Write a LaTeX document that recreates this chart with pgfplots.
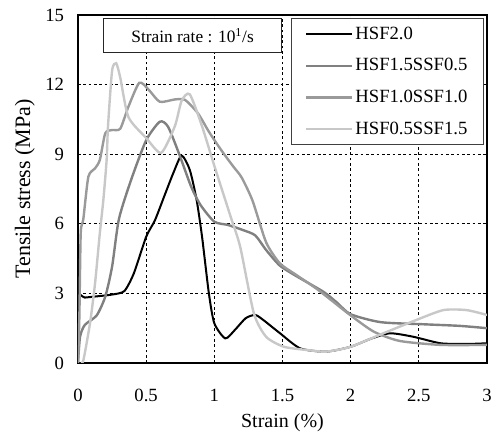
\documentclass[border=0pt]{standalone}
\usepackage{fontspec}
\setmainfont{Liberation Serif}
\usepackage{pgfplots}
\pgfplotsset{compat=1.18}
\definecolor{cA}{HTML}{808080}
\definecolor{cB}{HTML}{9A9A9A}
\definecolor{cC}{HTML}{C8C8C8}
\begin{document}
\begin{tikzpicture}
\useasboundingbox (-58.5pt,-53.25pt) rectangle (312pt,272.25pt);
\begin{axis}[
  scale only axis, width=306.75pt, height=261pt,
  at={(0,0)}, anchor=south west,
  xmin=0, xmax=3, ymin=0, ymax=15,
  xtick={0,0.5,1,1.5,2,2.5,3}, ytick={0,3,6,9,12,15},
  major tick length=0pt,
  grid=major,
  grid style={black, dash pattern=on 2pt off 2pt, line width=0.5pt},
  axis line style={black, line width=1.5pt},
  /pgf/number format/assume math mode=true,
  ticklabel style={font=\fontsize{14}{16}\selectfont},
  xticklabel style={yshift=-16pt},
  yticklabel style={xshift=-7pt},
  xlabel={Strain (\%)}, ylabel={Tensile stress (MPa)},
  xlabel style={at={(axis description cs:0.5,-0.172)}, anchor=center, font=\fontsize{15}{17}\selectfont},
  ylabel style={at={(axis description cs:-0.13,0.5)}, anchor=center, font=\fontsize{16.5}{18}\selectfont},
  legend style={at={(0.993,0.991)}, anchor=north east, draw=black!75,
    line width=1pt, fill=white, font=\fontsize{14}{16}\selectfont,
    inner xsep=10pt, inner ysep=4pt, row sep=9pt, cells={anchor=west}},
  legend image code/.code={\draw[#1] (0pt,0pt) -- (34pt,0pt);},
  clip=true,
]
\addplot[black, line width=1.5pt, smooth, tension=0.4] coordinates {
(0,0)(0,2.8)(0.05,2.82)(0.15,2.88)(0.25,2.95)(0.34,3.1)(0.41,3.87)(0.5,5.44)
(0.565,6.16)(0.64,7.3)(0.7,8.2)(0.76,8.94)(0.82,8.32)(0.87,7.03)(0.91,5.44)
(0.96,3.0)(1.0,1.71)(1.08,1.06)(1.15,1.42)(1.23,1.93)(1.30,2.07)(1.36,1.85)
(1.48,1.29)(1.63,0.63)(1.82,0.49)(2.0,0.7)(2.15,1.05)(2.29,1.28)(2.46,1.13)
(2.66,0.85)(2.85,0.82)(3.0,0.85)};
\addlegendentry{HSF2.0}
\addplot[cA, line width=1.8pt, smooth, tension=0.4] coordinates {
(0,0)(0.015,1.13)(0.05,1.64)(0.137,2.05)(0.2,2.86)(0.25,4.15)(0.30,6.2)
(0.39,7.9)(0.5,9.6)(0.6,10.4)(0.66,10.19)(0.74,9.04)(0.83,7.6)(0.9,6.8)
(1.0,6.09)(1.1,5.95)(1.21,5.73)(1.30,5.5)(1.38,4.87)(1.48,4.2)(1.6,3.75)
(1.8,3.07)(1.9,2.6)(2.0,2.1)(2.22,1.76)(2.53,1.67)(2.8,1.6)(3.0,1.5)};
\addlegendentry{HSF1.5SSF0.5}
\addplot[cB, line width=1.8pt, smooth, tension=0.4] coordinates {
(0,0)(0.01,2.0)(0.02,5.6)(0.039,6.2)(0.076,8.03)(0.125,8.39)(0.16,8.75)
(0.2,9.9)(0.25,10.04)(0.31,10.1)(0.37,11.05)(0.45,12.08)(0.52,11.77)
(0.60,11.26)(0.71,11.36)(0.785,11.34)(0.88,10.76)(0.96,9.97)(1.05,9.18)
(1.14,8.46)(1.2,8.0)(1.28,7.0)(1.38,5.2)(1.48,4.3)(1.6,3.8)(1.75,3.2)
(1.87,2.65)(2.0,2.05)(2.17,1.35)(2.36,0.95)(2.66,0.78)(3.0,0.78)};
\addlegendentry{HSF1.0SSF1.0}
\addplot[cC, line width=1.8pt, smooth, tension=0.4] coordinates {
(0.02,0)(0.04,0.13)(0.088,1.71)(0.125,3.43)(0.16,5.59)(0.186,7.03)(0.21,8.75)
(0.22,10.19)(0.25,12.6)(0.28,12.92)(0.31,12.3)(0.37,10.6)(0.5,9.7)(0.61,9.06)
(0.71,10.2)(0.76,11.3)(0.82,11.58)(0.91,10.2)(1.0,8.5)(1.12,6.3)(1.19,5.0)
(1.29,2.14)(1.38,1.13)(1.51,0.70)(1.68,0.56)(1.82,0.49)(2.0,0.7)(2.24,1.28)
(2.48,1.85)(2.68,2.28)(2.85,2.28)(3.0,2.07)};
\addlegendentry{HSF0.5SSF1.5}
\node[draw=black!85, line width=1pt, fill=white, minimum width=133.5pt,
  minimum height=25.5pt, anchor=north west, inner sep=0pt,
  font=\fontsize{13}{15}\selectfont]
  at (rel axis cs:0.061,0.991) {Strain rate : 10\textsuperscript{1}/s};
\end{axis}
\end{tikzpicture}
\end{document}
